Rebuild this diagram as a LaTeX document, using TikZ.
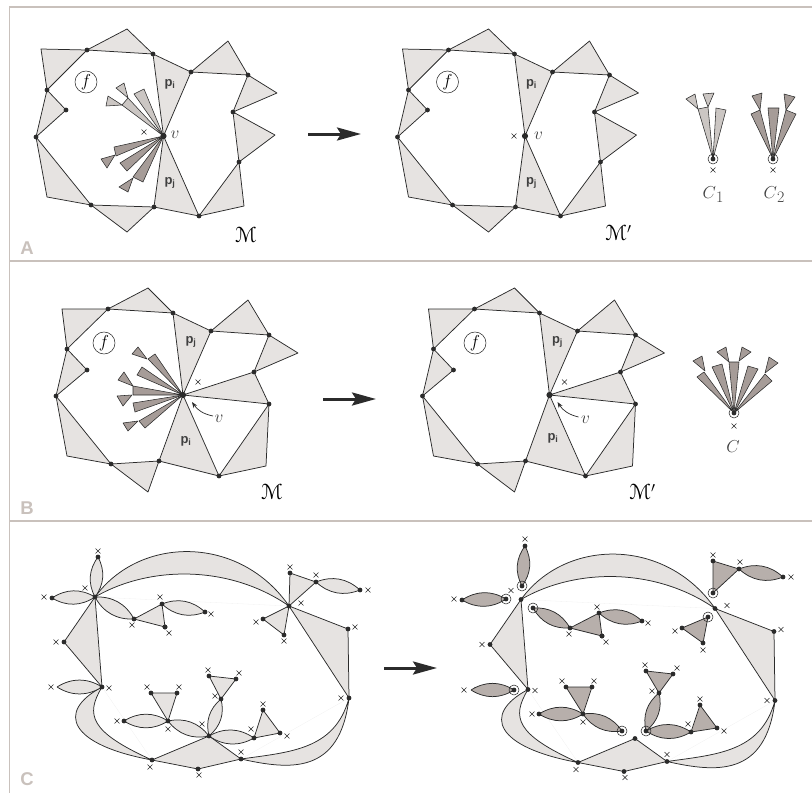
\documentclass[tikz,border=0pt]{standalone}
\usepackage{amsmath,amssymb}
\usepackage{eucal}
\usepackage{fontspec}
\setsansfont{Liberation Sans}
\usetikzlibrary{arrows.meta,shapes.misc}
\definecolor{framegray}{HTML}{C9C1BC}
\definecolor{facegray}{HTML}{E6E3E1}
\definecolor{fanlight}{HTML}{CBC6C3}
\definecolor{fandark}{HTML}{A69C98}
\definecolor{lensdark}{HTML}{B7AFAB}
\definecolor{inkgray}{HTML}{2B2B2B}
\definecolor{textgray}{HTML}{404040}
\tikzset{
	dot/.style={circle, fill=inkgray, inner sep=0pt, minimum size=4.8pt},
	bigdot/.style={dot, minimum size=6.2pt},
	ring/.style={circle, draw=inkgray, line width=.55pt, inner sep=0pt, minimum size=10pt},
	xmark/.style={cross out, draw=inkgray, line width=.55pt, inner sep=0pt, minimum size=4.4pt},
	face/.style={fill=facegray, draw=inkgray, line width=.75pt, line join=round},
	lightfan/.style={fill=fanlight, draw=inkgray, line width=.55pt, line join=round},
	darkfan/.style={fill=fandark, draw=inkgray, line width=.55pt, line join=round},
	lensface/.style={fill=lensdark, draw=inkgray, line width=.75pt, line join=round},
	framerule/.style={draw=framegray, line width=1.5pt},
	bigarrow/.style={-{Stealth[length=24pt,width=13pt,inset=4pt]}, line width=3pt, draw=inkgray},
	thinarrow/.style={-{Stealth[length=6pt,width=4.5pt]}, line width=.7pt, draw=inkgray},
	panellab/.style={text=framegray, font=\sffamily\bfseries\fontsize{18.5}{18}\selectfont},
	plab/.style={text=textgray, font=\sffamily\bfseries\fontsize{13}{13}\selectfont},
	vlab/.style={text=textgray, font=\fontsize{17}{17}\selectfont},
	maplab/.style={text=black, font=\fontsize{22}{22}\selectfont},
	setlab/.style={text=textgray, font=\fontsize{18}{18}\selectfont},
	flab/.style={circle, draw=inkgray, line width=.55pt, inner sep=0pt, minimum size=22pt, font=\fontsize{16}{16}\selectfont},
}
\newcommand{\setname}[2]{$#1$\raisebox{-4pt}{\fontsize{16}{16}\selectfont #2}}
\newcommand{\placepts}[1]{\foreach \n/\x/\y in {#1} \coordinate (\n) at (\x,\y);}
\newcommand{\placedots}[1]{\foreach \n in {#1} \node[dot] (d\n) at (\n) {};}
\newcommand{\lens}[3][face]{\filldraw[#1] (#2.center) to[bend left=32] (#3.center) to[bend left=32] (#2.center);}
\newcommand{\tri}[4][face]{\filldraw[#1] (#2.center) -- (#3.center) -- (#4.center) -- cycle;}
\newcommand{\mapA}{
	\placepts{t1/41/49,t2/127/29,t3/228/41,t4/277/93,t5/275/135,t6/244/206,t7/127/232,t8/47/197,a/87/50,b/153/54,c/191/72,d/248/75,e/233/112,g/239/162,h/199/216,i/154/207,j/91/205,k/36/137,l/47/90,m/66/110,v/163.5/136}
	\foreach \p/\q/\r in {t1/a/l,a/t2/b,b/c/v,c/t3/d,d/t4/e,e/t5/g,g/t6/h,v/h/i,i/t7/j,j/t8/k,k/l/m}
		{\tri{\p}{\q}{\r}}
}
\newcommand{\mapB}{
	\placepts{t1/62/309,t2/148/288,t3/248/300,t4/298/353,t6/266/466,t7/148/492,t8/67/456,a/108/309,b/173/313,c/211/331,d/269/335,e/254/372,g/269/404,h/219/476,i/159/461,j/111/464,k/56/396,l/67/349,m/87/370,v/183/395}
	\foreach \p/\q/\r in {t1/a/l,a/t2/b,b/c/v,c/t3/d,d/t4/e,e/g/v,g/t6/h,v/h/i,i/t7/j,j/t8/k,k/l/m}
		{\tri{\p}{\q}{\r}}
}
\newcommand{\hullC}{
	\placepts{ha/95/597,hb/289/606,hd/102/687,he/349/698,hf/152/760,hg/241/759,hh/209/736,hi/198/769,hn/64/642,hu/348/629}
	\draw[black!6, line width=.3pt] (ha) -- (hb) (hd) -- (hf) (hg) -- (he);
	\filldraw[face] (ha) .. controls (140,535) and (240,535) .. (hb) .. controls (230,565) and (150,565) .. (ha);
	\filldraw[face] (hd) .. controls (55,712) and (70,745) .. (hf) .. controls (90,732) and (85,715) .. (hd);
	\filldraw[face] (hg) .. controls (290,770) and (340,775) .. (he) .. controls (335,750) and (290,752) .. (hg);
	\filldraw[face] (hf) -- (hh) -- (hg) -- (hi) -- cycle;
	\tri{ha}{hn}{hd}
	\tri{hb}{hu}{he}
	\foreach \p [count=\i] in {(56,642),(51,687),(109,688),(355,627),(341,698),(150,767),(199,775),(241,752),(85,588),(301,603)}
		\node[xmark] (cx\i) at \p {};
}
\begin{document}
\begin{tikzpicture}[x=1pt, y=-1pt]
	\useasboundingbox (0,0) rectangle (812,793);
	\placepts{f0/9.5/793,f1/9.5/7,f2/812/7,f3/9.5/261,f4/812/261,f5/9.5/521,f6/812/521}
	\draw[framerule] (f0) -- (f1) -- (f2) (f3) -- (f4) (f5) -- (f6);
	\node[panellab] (labA) at (27,248) {A};
	\node[panellab] (labB) at (27,508) {B};
	\node[panellab] (labC) at (27,779) {C};

	\begin{scope}[name prefix=al-]
		\mapA
		\foreach \ax/\ay/\bx/\by in {134/94/144/89,122/105/128/98}
			\filldraw[lightfan] (v) -- (\ax,\ay) -- (\bx,\by) -- cycle;
		\filldraw[lightfan] (116,88) -- (124,83) -- (128,98) -- cycle;
		\filldraw[lightfan] (106,106) -- (108,96) -- (122,105) -- cycle;
		\foreach \ax/\ay/\bx/\by in {114/147/116/156,120/163/127/171,133/177/143/182}
			\filldraw[darkfan] (v) -- (\ax,\ay) -- (\bx,\by) -- cycle;
		\filldraw[darkfan] (101,159) -- (115,155) -- (107,168) -- cycle;
		\filldraw[darkfan] (119,187) -- (133,178) -- (128,192) -- cycle;
		\placedots{a,b,c,d,e,g,h,i,j,k,l,m}
		\node[bigdot] (dv) at (v) {};
		\node[xmark] (x0) at (144,132) {};
		\node[flab] (f) at (86,82) {$f$};
		\node[plab] (pi) at (170,84) {p\textsubscript{i}};
		\node[plab] (pj) at (170,183) {p\textsubscript{j}};
		\node[vlab] (vt) at (175,135) {$v$};
		\node[maplab] (M) at (246,235) {$\mathcal{M}$};
	\end{scope}
	\coordinate (as) at (308,134);
	\coordinate (ae) at (361,134);
	\draw[bigarrow] (as) -- (ae);
	\begin{scope}[name prefix=ar-, xshift=361.5pt]
		\mapA
		\placedots{a,b,c,d,e,g,h,i,j,k,l,m}
		\node[bigdot] (dv) at (v) {};
		\node[xmark] (x0) at (152.5,136) {};
		\node[flab] (f) at (86,82) {$f$};
		\node[plab] (pi) at (170,84) {p\textsubscript{i}};
		\node[plab] (pj) at (170,183) {p\textsubscript{j}};
		\node[vlab] (vt) at (177,136) {$v$};
		\node[maplab] (M) at (257,233) {$\mathcal{M}'$};
	\end{scope}

	\coordinate (c1) at (713,159);
	\foreach \ax/\ay/\bx/\by in {698/109/708/107,716/108/726/110}
		\filldraw[lightfan] (c1) -- (\ax,\ay) -- (\bx,\by) -- cycle;
	\filldraw[lightfan] (686,99) -- (695,94) -- (698,109) -- cycle;
	\filldraw[lightfan] (703,94) -- (714,93) -- (708,107) -- cycle;
	\node[dot] (c1d) at (c1) {};
	\node[ring] (c1r) at (c1) {};
	\node[xmark] (c1x) at (713,170) {};
	\node[setlab] (c1l) at (713,195) {\setname{C}{1}};
	\coordinate (c2) at (773,159);
	\foreach \ax/\ay/\bx/\by in {751/114/760/110,768/108/779/108,786/110/796/114}
		\filldraw[darkfan] (c2) -- (\ax,\ay) -- (\bx,\by) -- cycle;
	\filldraw[darkfan] (752,96) -- (762,93) -- (760,110) -- cycle;
	\filldraw[darkfan] (784,94) -- (795,97) -- (786,110) -- cycle;
	\node[dot] (c2d) at (c2) {};
	\node[ring] (c2r) at (c2) {};
	\node[xmark] (c2x) at (773,170) {};
	\node[setlab] (c2l) at (774,195) {\setname{C}{2}};

	\begin{scope}[name prefix=bl-]
		\mapB
		\foreach \ax/\ay/\bx/\by in {148/359/155/354,137/375/142/367,133/386/133/395,133/403/135/412,139/421/145/428}
			\filldraw[darkfan] (v) -- (\ax,\ay) -- (\bx,\by) -- cycle;
		\filldraw[darkfan] (132,354) -- (138,347) -- (147,359) -- cycle;
		\filldraw[darkfan] (118,380) -- (124,372) -- (133,386) -- cycle;
		\filldraw[darkfan] (117,396) -- (132,395) -- (123,406) -- cycle;
		\filldraw[darkfan] (123,423) -- (138,421) -- (128,431) -- cycle;
		\placedots{a,b,c,d,e,g,h,i,j,k,l,m}
		\node[bigdot] (dv) at (v) {};
		\node[xmark] (x0) at (198,382) {};
		\node[flab] (f) at (104,343) {$f$};
		\node[plab] (pj) at (191,342) {p\textsubscript{j}};
		\node[plab] (pi) at (186,441) {p\textsubscript{i}};
		\node[vlab] (vt) at (219,419) {$v$};
		\coordinate (vs) at (213,416);
		\coordinate (ve) at (192,402);
		\draw[thinarrow] (vs) to[bend left=22] (ve);
		\node[maplab] (M) at (272,492) {$\mathcal{M}$};
	\end{scope}
	\coordinate (bs) at (323,399);
	\coordinate (be) at (376,399);
	\draw[bigarrow] (bs) -- (be);
	\begin{scope}[name prefix=br-, xshift=366.5pt]
		\mapB
		\placedots{a,b,c,d,e,g,h,i,j,k,l,m}
		\node[bigdot] (dv) at (v) {};
		\node[xmark] (x0) at (198,382) {};
		\node[flab] (f) at (108.5,343) {$f$};
		\node[plab] (pj) at (191,342) {p\textsubscript{j}};
		\node[plab] (pi) at (186.5,438) {p\textsubscript{i}};
		\node[vlab] (vt) at (219,420) {$v$};
		\coordinate (vs) at (212,417);
		\coordinate (ve) at (191,402);
		\draw[thinarrow] (vs) to[bend left=22] (ve);
		\node[maplab] (M) at (276,492) {$\mathcal{M}'$};
	\end{scope}

	\coordinate (c0) at (734,413);
	\foreach \ax/\ay/\bx/\by in {697/377/704/372,712/367/722/364,729/362/739/362,748/366/758/369,765/374/772/381}
		\filldraw[darkfan] (c0) -- (\ax,\ay) -- (\bx,\by) -- cycle;
	\filldraw[darkfan] (693,361) -- (702,356) -- (705,371) -- cycle;
	\filldraw[darkfan] (717,352) -- (726,347) -- (729,362) -- cycle;
	\filldraw[darkfan] (742,347) -- (751,352) -- (739,361) -- cycle;
	\filldraw[darkfan] (769,357) -- (778,363) -- (765,373) -- cycle;
	\node[dot] (c0d) at (c0) {};
	\node[ring] (c0r) at (c0) {};
	\node[xmark] (c0x) at (734,426) {};
	\node[setlab] (c0l) at (733,447) {$C$};

	\begin{scope}[name prefix=cl-]
		\hullC
		\placepts{top/98/557,lft/52/598,j/134/619,k/162/604,l/165/627,m/205/612,p/290/573,q/316/582,r/360/590,s/263/619,t/284/635,dl/57/687,w/168/721,wa/151/693,wb/177/693,wc/124/721,y/221/699,ya/209/676,yb/236/679,z/254/738,za/263/710,zb/280/733}
		\foreach \p/\q in {ha/top,lft/ha,ha/j,k/m,q/r,dl/hd,wc/w,w/hh,hh/y,hh/z}
			{\lens{\p}{\q}}
		\foreach \p/\q/\r in {j/k/l,hb/p/q,hb/s/t,w/wa/wb,y/ya/yb,z/za/zb}
			{\tri{\p}{\q}{\r}}
		\placedots{ha,hb,hd,he,hf,hg,hh,hi,hn,hu,top,lft,j,k,l,m,p,q,r,s,t,dl,w,wa,wb,wc,y,ya,yb,z,za,zb}
		\foreach \p [count=\i] in {(98,551),(44,597),(132,625),(160,597),(169,633),(211,614),(290,567),(316,575),(368,590),(256,622),(284,641),(147,687),(179,687),(168,729),(117,721),(202,724),(215,696),(208,670),(239,673),(251,729),(263,704),(287,736)}
			\node[xmark] (lx\i) at \p {};
	\end{scope}
	\coordinate (cs) at (384,668);
	\coordinate (ce) at (437,668);
	\draw[bigarrow] (cs) -- (ce);
	\begin{scope}[name prefix=cr-, xshift=426pt, yshift=-2.5pt]
		\hullC
		\placedots{ha,hb,hd,he,hf,hg,hh,hi,hn,hu}
	\end{scope}
	\begin{scope}[name prefix=cq-]
		\placepts{top/525/546,lft/462/600,j/570/628,k/599/613,l/602/636,m/642/621,p/713/561,q/739/569,r/783/577,s/682/628,t/703/643,dl/471/690,w/583/714,wa/566/687,wb/592/687,wc/539/714,y/659/693,ya/646/671,yb/673/674,z/691/732,za/700/705,zb/717/728,ra/522/586,rb/506/599,rc/533/608,rd/713/593,re/708/617,rf/514/690,rg/622/731,rh/646/731}
		\foreach \p/\q in {ra/top,lft/rb,rc/j,k/m,q/r,dl/rf,wc/w,w/rg,rh/y,rh/z}
			{\lens[lensface]{\p}{\q}}
		\foreach \p/\q/\r in {j/k/l,rd/p/q,re/s/t,w/wa/wb,y/ya/yb,z/za/zb}
			{\tri[lensface]{\p}{\q}{\r}}
		\placedots{top,lft,j,k,l,m,p,q,r,s,t,dl,w,wa,wb,wc,y,ya,yb,z,za,zb,ra,rb,rc,rd,re,rf,rg,rh}
		\foreach \n in {ra,rb,rc,rd,re,rf,rg,rh}
			\node[ring] (o\n) at (\n) {};
		\foreach \p [count=\i] in {(525,539),(454,599),(569,634),(597,607),(606,642),(648,623),(713,555),(740,562),(791,577),(675,631),(703,650),(464,690),(562,681),(594,681),(583,722),(532,714),(652,691),(645,665),(677,668),(688,724),(700,699),(724,731)}
			\node[xmark] (rx\i) at \p {};
	\end{scope}
\end{tikzpicture}
\end{document}
